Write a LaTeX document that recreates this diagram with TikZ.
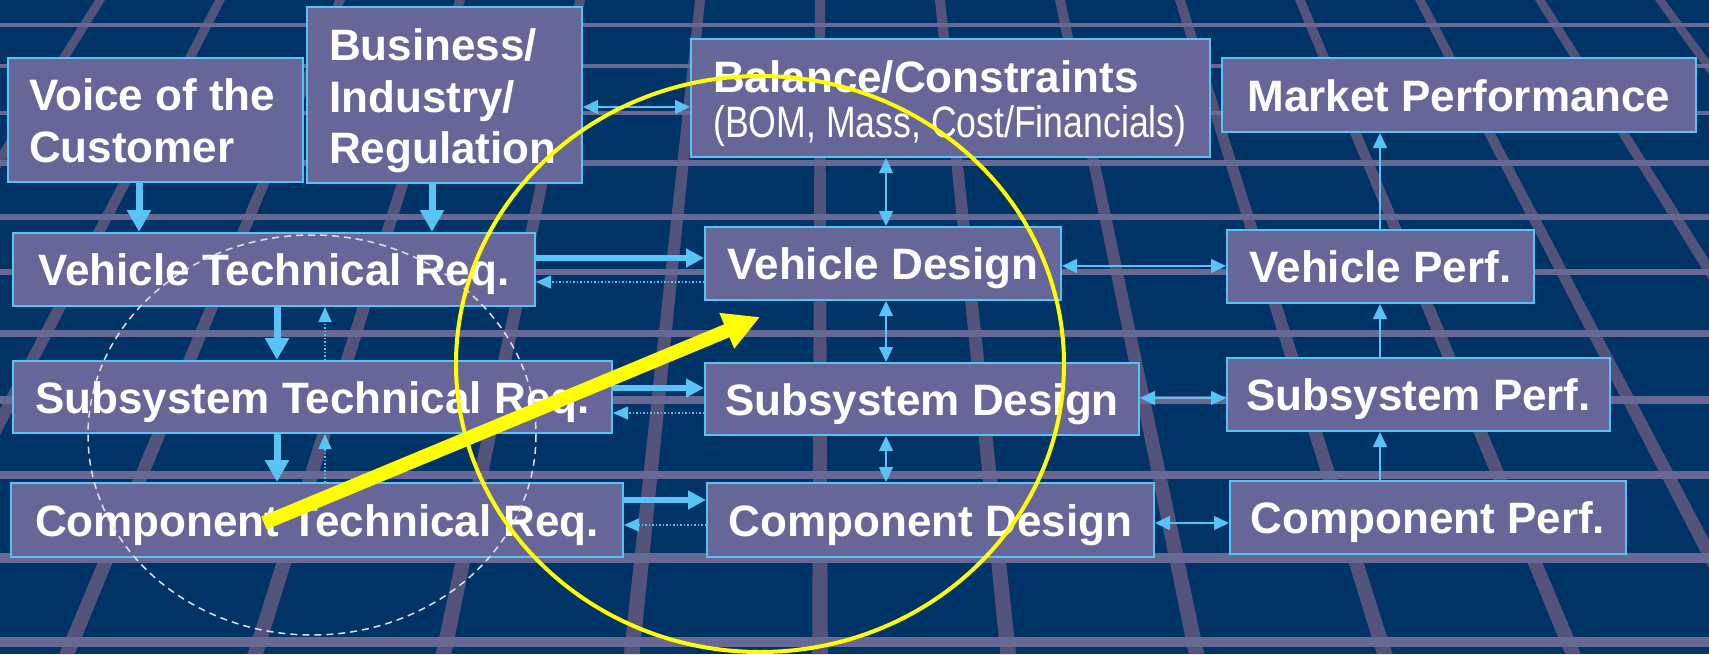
\documentclass[tikz,border=0pt]{standalone}
\usepackage{fontspec}
\setmainfont{Liberation Sans}
\newfontfamily\narrowfont[FakeStretch=0.81]{Liberation Sans}
\usetikzlibrary{arrows.meta}
\definecolor{bg}{RGB}{0,51,102}
\definecolor{hgrid}{RGB}{104,104,148}
\definecolor{sgrid}{RGB}{82,82,122}
\definecolor{boxfill}{RGB}{102,102,153}
\definecolor{cyanline}{RGB}{90,195,245}
\definecolor{ylw}{RGB}{255,255,0}
\definecolor{dashwhite}{RGB}{225,225,235}
\begin{document}
\begin{tikzpicture}[x=1pt,y=-1pt,
  box/.style={draw=cyanline, line width=2pt, fill=boxfill, inner sep=0pt, text=white,
    font=\fontsize{44}{52}\selectfont\bfseries, text height=32pt, text depth=0pt},
  txt/.style={inner sep=0pt, text=white, anchor=base west, font=\fontsize{44}{52}\selectfont\bfseries},
  vthick/.style={draw=cyanline, line width=7pt, -{Triangle[length=22pt,width=23pt]}},
  hthick/.style={draw=cyanline, line width=6pt, -{Triangle[length=18pt,width=18pt]}},
  dotarrow/.style={draw=cyanline, line width=1.5pt, dash pattern=on 1.5pt off 2pt, -{Triangle[length=15pt,width=13pt]}},
  twoway/.style={draw=cyanline, line width=1.5pt, {Triangle[length=15pt,width=14pt]}-{Triangle[length=15pt,width=14pt]}},
  oneway/.style={draw=cyanline, line width=1.5pt, -{Triangle[length=15pt,width=14pt]}},
  yarrow/.style={draw=ylw, line width=14pt, -{Triangle[length=36pt,width=36pt]}},
  ycircle/.style={draw=ylw, line width=4pt},
  dcircle/.style={draw=dashwhite, line width=1.5pt, dash pattern=on 7pt off 5pt}
]
\useasboundingbox (0,0) rectangle (1709,654);
\fill[bg] (0,0) rectangle (1709,654);
% perspective grid
\begin{scope}
\clip (0,0) rectangle (1709,654);
\foreach \k in {-8,...,8} {
  \pgfmathsetmacro\xl{820+(120*\k-5)*1.568696}
  \pgfmathsetmacro\xr{820+(120*\k+5)*1.568696}
  \fill[sgrid] (820,-1150) -- (\xl,654) -- (\xr,654) -- cycle;
}
\foreach \yy in {25,66,113,163,217,272,333,400,475,558,642} {
  \pgfmathsetmacro\hlw{4+(\yy-25)*0.009724}
  \draw[hgrid, line width=\hlw pt] (0,\yy) -- (1709,\yy);
}
\end{scope}
% boxes
\node[box, minimum width=295pt, minimum height=124pt] (voice) at (155.5,120) {};
\node[box, minimum width=275pt, minimum height=176pt] (biz) at (444.5,95) {};
\node[box, minimum width=519pt, minimum height=118pt] (bal) at (950.5,98) {};
\node[box, minimum width=474pt, minimum height=74pt] (mp) at (1459,95) {Market Performance};
\node[box, minimum width=522pt, minimum height=73pt] (vtr) at (274,269.5) {Vehicle Technical Req.};
\node[box, minimum width=356pt, minimum height=73pt] (vd) at (883,263.5) {Vehicle Design};
\node[box, minimum width=307pt, minimum height=73pt] (vp) at (1380.5,266.5) {Vehicle Perf.};
\node[box, minimum width=599pt, minimum height=72pt] (str) at (312.5,397) {Subsystem Technical Req.};
\node[box, minimum width=434pt, minimum height=72pt] (sd) at (922,399) {Subsystem Design};
\node[box, minimum width=383pt, minimum height=73pt] (sp) at (1418.5,394.5) {Subsystem Perf.};
\node[box, minimum width=612pt, minimum height=74pt] (ctr) at (317,520) {Component Technical Req.};
\node[box, minimum width=447pt, minimum height=74pt] (cd) at (930.5,520) {Component Design};
\node[box, minimum width=396pt, minimum height=73pt] (cp) at (1428,517.5) {Component Perf.};
% multi-line texts
\node[txt] (voiceA) at (29,110) {Voice of the};
\node[txt] (voiceB) at (29,162) {Customer};
\node[txt] (bizA) at (329,60) {Business/};
\node[txt] (bizB) at (329,112) {Industry/};
\node[txt] (bizC) at (329,163) {Regulation};
\node[txt] (balA) at (713,92) {Balance/Constraints};
\node[txt, font=\fontsize{44}{52}\narrowfont] (balB) at (713,137) {(BOM, Mass, Cost/Financials)};
% helper coordinates
\coordinate (c1) at (139,0);
\coordinate (c2) at (432,0);
\coordinate (c3) at (277,0);
\coordinate (c4) at (325,0);
\coordinate (c5) at (886,0);
\coordinate (c6) at (1380,0);
\coordinate (r1) at (0,107);
\coordinate (r2) at (0,258);
\coordinate (r2b) at (0,282);
\coordinate (r3) at (0,388);
\coordinate (r3b) at (0,413);
\coordinate (r4) at (0,500);
\coordinate (r4b) at (0,525);
\coordinate (s1) at (0,266);
\coordinate (s2) at (0,398);
\coordinate (s3) at (0,523);
% left column arrows
\draw[vthick] (voice.south -| c1) -- (vtr.north -| c1);
\draw[vthick] (biz.south -| c2) -- (vtr.north -| c2);
\draw[vthick] (vtr.south -| c3) -- (str.north -| c3);
\draw[vthick] (str.south -| c3) -- (ctr.north -| c3);
\draw[dotarrow] (str.north -| c4) -- (vtr.south -| c4);
\draw[dotarrow] (ctr.north -| c4) -- (str.south -| c4);
% requirement to design
\draw[hthick] (vtr.east |- r2) -- (vd.west |- r2);
\draw[dotarrow] (vd.west |- r2b) -- (vtr.east |- r2b);
\draw[hthick] (str.east |- r3) -- (sd.west |- r3);
\draw[dotarrow] (sd.west |- r3b) -- (str.east |- r3b);
\draw[hthick] (ctr.east |- r4) -- (cd.west |- r4);
\draw[dotarrow] (cd.west |- r4b) -- (ctr.east |- r4b);
% two-way arrows
\draw[twoway] (biz.east |- r1) -- (bal.west |- r1);
\draw[twoway] (bal.south -| c5) -- (vd.north -| c5);
\draw[twoway] (vd.south -| c5) -- (sd.north -| c5);
\draw[twoway] (sd.south -| c5) -- (cd.north -| c5);
\draw[twoway] (vd.east |- s1) -- (vp.west |- s1);
\draw[twoway] (sd.east |- s2) -- (sp.west |- s2);
\draw[twoway] (cd.east |- s3) -- (cp.west |- s3);
% performance column
\draw[oneway] (vp.north -| c6) -- (mp.south -| c6);
\draw[oneway] (sp.north -| c6) -- (vp.south -| c6);
\draw[oneway] (cp.north -| c6) -- (sp.south -| c6);
% overlays
\draw[dcircle] (312,435) ellipse [x radius=224, y radius=200];
\draw[ycircle] (760,364) ellipse [x radius=304, y radius=288];
\coordinate (ytail) at (264,523);
\coordinate (ytip) at (760,317);
\draw[yarrow] (ytail) -- (ytip);
\end{tikzpicture}
\end{document}
